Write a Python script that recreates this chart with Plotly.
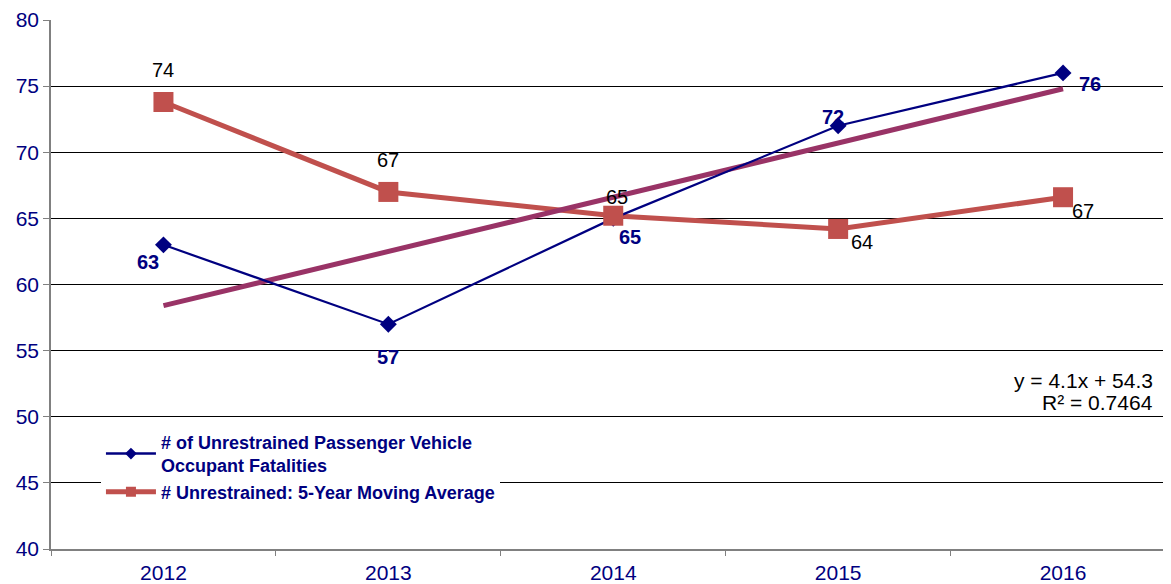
import plotly.graph_objects as go

years = ["2012", "2013", "2014", "2015", "2016"]
fatalities = [63, 57, 65, 72, 76]
moving_avg = [73.8, 67.0, 65.2, 64.2, 66.6]
moving_avg_labels = ["74", "67", "65", "64", "67"]
trend_slope = 4.1
trend_intercept = 54.3
trend_r2 = "0.7464"
trend = [trend_intercept + trend_slope * (i + 1) for i in range(len(years))]

# label offsets (pixels) for annotations
fat_shift = [(-15, -17), (0, -33), (17, -19), (-5, 9), (27, -11)]
avg_shift = [(0, 32), (0, 32), (4, 19), (24, -13), (20, -14)]

NAVY = "#000080"
RED = "#C0504D"
PURPLE = "#993366"
FONT = "Liberation Sans, Arial, sans-serif"

fig = go.Figure()

fig.add_trace(go.Scatter(
    x=years, y=moving_avg, mode="lines", showlegend=False,
    line=dict(color=RED, width=5), hoverinfo="skip",
))
fig.add_trace(go.Scatter(
    x=years, y=trend, mode="lines", showlegend=False,
    line=dict(color=PURPLE, width=5), hoverinfo="skip",
))
fig.add_trace(go.Scatter(
    x=years, y=fatalities, mode="lines+markers", showlegend=False,
    name="# of Unrestrained Passenger Vehicle Occupant Fatalities",
    line=dict(color=NAVY, width=2.2),
    marker=dict(symbol="diamond", size=13, color=NAVY),
))
fig.add_trace(go.Scatter(
    x=years, y=moving_avg, mode="markers", showlegend=False,
    name="# Unrestrained: 5-Year Moving Average",
    marker=dict(symbol="square", size=20, color=RED),
))
# legend entries (smaller symbols as in the reference legend)
fig.add_trace(go.Scatter(
    x=[None], y=[None], mode="lines+markers",
    name="# of Unrestrained Passenger Vehicle<br>Occupant Fatalities",
    line=dict(color=NAVY, width=2.5),
    marker=dict(symbol="diamond", size=9, color=NAVY),
    legendrank=1,
))
fig.add_trace(go.Scatter(
    x=[None], y=[None], mode="lines+markers",
    name="# Unrestrained: 5-Year Moving Average",
    line=dict(color=RED, width=5),
    marker=dict(symbol="square", size=10, color=RED),
    legendrank=2,
))

annotations = []
for i in range(len(years)):
    dx, dy = fat_shift[i]
    annotations.append(dict(
        x=i, y=fatalities[i], xref="x", yref="y", text=f"<b>{fatalities[i]}</b>",
        showarrow=False, xshift=dx, yshift=dy,
        font=dict(family=FONT, size=20, color=NAVY),
    ))
    dx, dy = avg_shift[i]
    annotations.append(dict(
        x=i, y=moving_avg[i], xref="x", yref="y", text=moving_avg_labels[i],
        showarrow=False, xshift=dx, yshift=dy,
        font=dict(family=FONT, size=20, color="black"),
    ))

eq_lines = [f"y = {trend_slope}x + {trend_intercept}", f"R² = {trend_r2}"]
eq_y = [(549 - 380) / 529, (549 - 402) / 529]
for txt, yy in zip(eq_lines, eq_y):
    annotations.append(dict(
        x=(1155 - 51) / 1120, y=yy, xref="paper", yref="paper",
        xanchor="right", yanchor="middle", text=txt,
        showarrow=False, align="right",
        font=dict(family=FONT, size=21, color="black"),
    ))

fig.update_layout(
    width=1171, height=576,
    margin=dict(l=43, r=8, t=12, b=35, autoexpand=False),
    paper_bgcolor="white", plot_bgcolor="white",
    font=dict(family=FONT),
    annotations=annotations,
    showlegend=True,
    legend=dict(
        x=0.0446, y=0.237, xanchor="left", yanchor="top",
        bgcolor="white", borderwidth=0,
        font=dict(family=FONT, size=18, color=NAVY, weight="bold"),
        tracegroupgap=0, itemwidth=50,
        traceorder="normal",
    ),
    xaxis=dict(
        type="category", range=[-0.5, 4.48], tickson="boundaries",
        showgrid=False, showline=True, linecolor="#808080", linewidth=1.5,
        ticks="outside", ticklen=5, tickcolor="#808080", automargin=False,
        ticklabelstandoff=4,
        tickfont=dict(family=FONT, size=21, color=NAVY),
    ),
    yaxis=dict(
        range=[40, 80], dtick=5, showgrid=True, gridcolor="black", gridwidth=1,
        showline=True, linecolor="#808080", linewidth=1.5, automargin=False,
        ticks="outside", ticklen=6, tickcolor="#808080",
        tickfont=dict(family=FONT, size=21, color=NAVY),
        zeroline=False,
    ),
)

fig.write_html("out.html")
